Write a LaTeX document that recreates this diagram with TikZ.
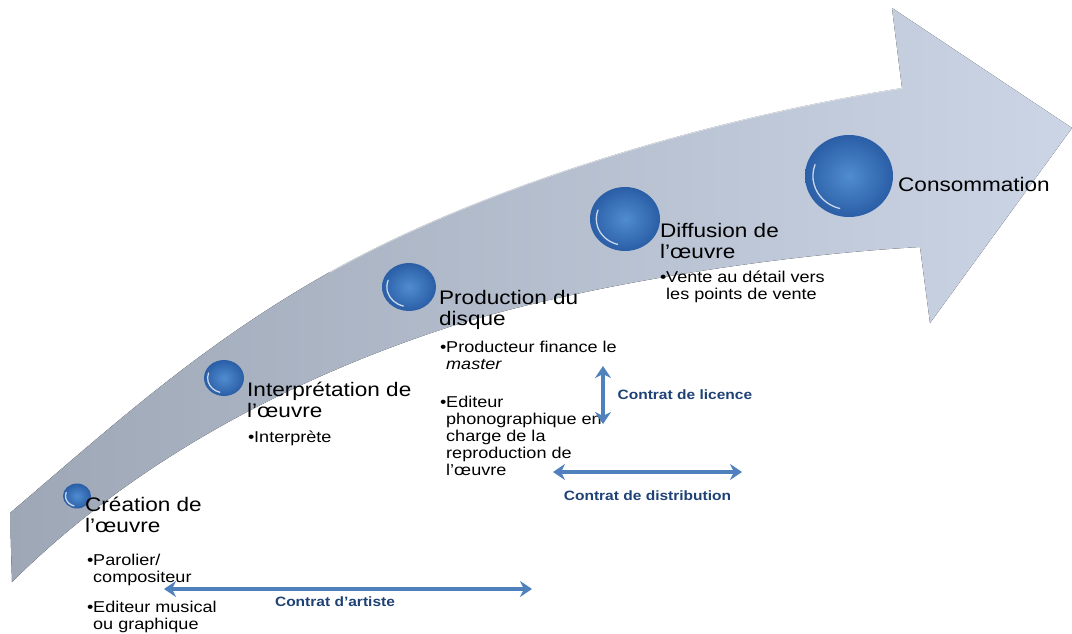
\documentclass[tikz,border=0pt]{standalone}
\usepackage{fontspec}
\setmainfont{Liberation Sans}[FakeStretch=1.15]
\usetikzlibrary{arrows.meta,shapes.geometric}

\definecolor{bandL}{RGB}{158,167,182}
\definecolor{bandR}{RGB}{204,213,229}
\definecolor{ballIn}{RGB}{80,140,208}
\definecolor{ballOut}{RGB}{42,94,166}
\definecolor{contractBlue}{RGB}{79,129,189}
\definecolor{labelBlue}{RGB}{31,66,118}

\newcommand{\itm}{\makebox[6pt][l]{•}}

\tikzset{
  sphere/.style={ellipse, inner sep=0pt, shading=radial, inner color=ballIn, outer color=ballOut},
  glint/.style={white, opacity=0.75, line width=1.3pt, line cap=round},
  stage/.style={anchor=north west, inner sep=0pt, align=left, font=\fontsize{19.6}{21}\selectfont},
  items/.style={anchor=north west, inner sep=0pt, align=left, font=\fontsize{15.7}{17}\selectfont},
  contract/.style={contractBlue, line width=3.2pt, {Stealth[length=12pt,width=16pt]}-{Stealth[length=12pt,width=16pt]}},
  contractlabel/.style={labelBlue, inner sep=0pt, font=\bfseries\fontsize{13.5}{16}\selectfont}
}

\begin{document}
\begin{tikzpicture}[x=1pt, y=-1pt]
  % Page frame
  \useasboundingbox (0,0) rectangle (1072,634);
  \fill[white] (0,0) rectangle (1072,634);

  % Rising arrow
  \fill[left color=bandL, right color=bandR]
    (10,513) .. controls (110,428) and (200,345) .. (330,272)
    .. controls (480,188) and (700,120) .. (902,88)
    -- (892,8) -- (1072,128) -- (930,323) -- (920,247)
    .. controls (760,256) and (560,290) .. (440,330)
    .. controls (320,370) and (150,445) .. (12,582)
    -- cycle;
  \draw[white, opacity=.5, line width=1.4pt, line cap=round]
    (330,272) .. controls (480,188) and (700,120) .. (902,88);

  % Stage spheres
  \foreach \n/\x/\y/\rx/\ry in {1/77/496/14/12.5, 2/224/378/20/18, 3/409/287/27/24, 4/625/219/35/32, 5/849/176/44/41}{
    \node[sphere, minimum width=2*\rx, minimum height=2*\ry] (s\n) at (\x,\y) {};
    \draw[glint] (s\n.center) ++(105:{0.82*\rx} and {0.82*\ry})
      arc[start angle=105, end angle=200, x radius={0.82*\rx}, y radius={0.82*\ry}];
  }

  % Stage titles
  \node[stage] (t1) at (85,497) {\strut Création de\\l’œuvre};
  \node[stage] (t2) at (247,382) {\strut Interprétation de\\l’œuvre};
  \node[stage] (t3) at (439,290) {\strut Production du\\disque};
  \node[stage] (t4) at (660,223) {\strut Diffusion de\\l’œuvre};
  \node[stage] (t5) at (898,177) {\strut Consommation};

  % Stage items
  \node[items] (i1a) at (87,553) {\strut\itm Parolier/\\\hspace*{6pt}compositeur};
  \node[items] (i1b) at (87,600) {\strut\itm Editeur musical\\\hspace*{6pt}ou graphique};
  \node[items] (i2) at (248,430) {\strut\itm Interprète};
  \node[items] (i3a) at (440,340) {\strut\itm Producteur finance le\\\hspace*{6pt}\textit{master}};
  \node[items] (i3b) at (440,395) {\strut\itm Editeur\\\hspace*{6pt}phonographique en\\\hspace*{6pt}charge de la\\\hspace*{6pt}reproduction de\\\hspace*{6pt}l’œuvre};
  \node[items] (i4) at (660,270) {\strut\itm Vente au détail vers\\\hspace*{6pt}les points de vente};

  % Contracts
  \coordinate (artL) at (164,589);
  \coordinate (artR) at (532,589);
  \draw[contract] (artL) -- (artR);
  \node[contractlabel, anchor=north] (artlbl) at (335,597) {Contrat d’artiste};

  \coordinate (licT) at (603,366);
  \coordinate (licB) at (603,424);
  \draw[contract] (licT) -- (licB) node[contractlabel, midway, right=13pt] (liclbl) {Contrat de licence};

  \coordinate (disL) at (553,472);
  \coordinate (disR) at (742,472);
  \draw[contract] (disL) -- (disR) node[contractlabel, midway, below=17pt] (dislbl) {Contrat de distribution};
\end{tikzpicture}
\end{document}
